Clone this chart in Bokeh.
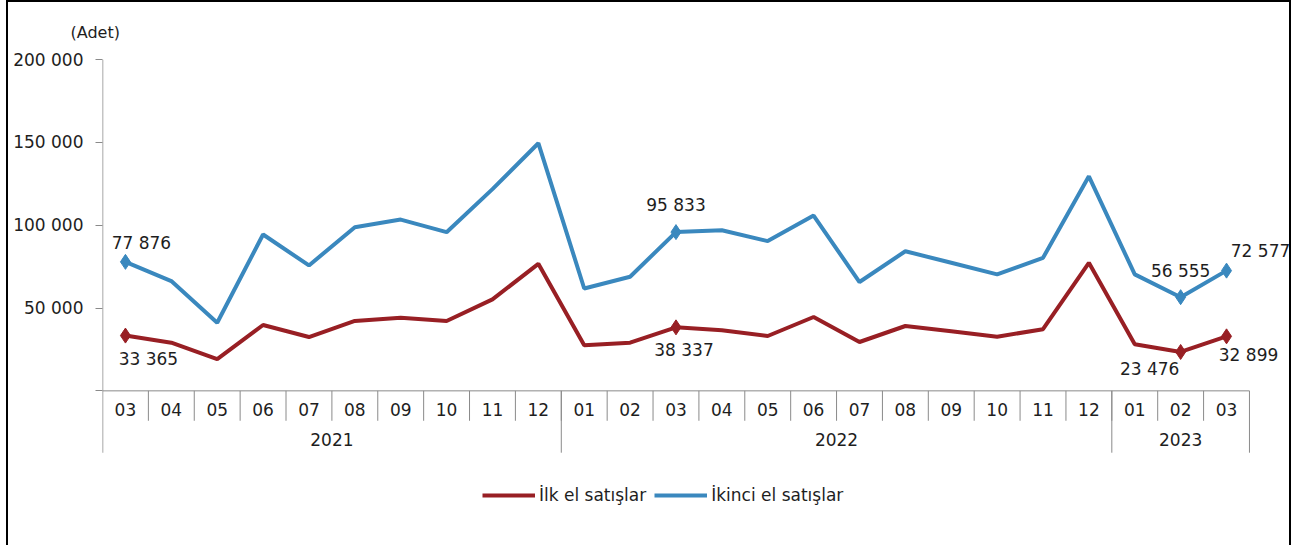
from bokeh.plotting import figure
from bokeh.models import Range1d, FixedTicker, ColumnDataSource, Legend, LegendItem, Title
from bokeh.core.properties import value
from bokeh.embed import file_html
from bokeh.resources import INLINE

# ---------------- data ----------------
months = ["03", "04", "05", "06", "07", "08", "09", "10", "11", "12",
          "01", "02", "03", "04", "05", "06", "07", "08", "09", "10", "11", "12",
          "01", "02", "03"]
years = ["2021", "2022", "2023"]
year_counts = [10, 12, 3]

ilk_el = [33365, 29100, 19100, 39750, 32500, 42200, 44100, 42200, 55200, 76700,
          27500, 29100, 38337, 36550, 33100, 44600, 29500, 39150, 36000, 32700, 37200, 77300,
          28100, 23476, 32899]
ikinci_el = [77876, 66300, 41100, 94400, 75700, 98800, 103400, 95800, 121800, 149500,
             61800, 68900, 95833, 97000, 90400, 105800, 65700, 84300, 77300, 70300, 80300, 129500,
             70300, 56555, 72577]

y_ticks = [0, 50000, 100000, 150000, 200000]
y_tick_labels = ["", "50 000", "100 000", "150 000", "200 000"]
series_names = ["İlk el satışlar", "İkinci el satışlar"]
unit_label = "(Adet)"
marked = [0, 12, 23, 24]

# ---------------- style ----------------
RED = "#981f24"
BLUE = "#3a88be"
AXIS = "#8a8a8a"
TXT = "#1e1e1e"
FONT = "DejaVu Sans"
FS = "17px"

n = len(months)
xc = [i + 0.5 for i in range(n)]
Y_TOP = 200050
Y_BOT = -94578       # frame reaches the bottom of the canvas
Y_CAT_SEP = -18070
Y_YEAR_SEP = -37350

p = figure(width=1285, height=545,
           x_range=Range1d(0, 25.96), y_range=Range1d(Y_BOT, Y_TOP),
           x_axis_location=None,
           output_backend="svg", toolbar_location=None,
           min_border_left=94, min_border_right=0, min_border_top=56, min_border_bottom=0,
           styles={"margin-left": "6px", "border-left": "2px solid black",
                   "border-top": "2px solid black", "border-right": "2px solid black"})
p.grid.visible = False
p.outline_line_color = None
p.background_fill_color = "white"
p.border_fill_color = "white"

ya = p.yaxis[0]
ya.ticker = FixedTicker(ticks=y_ticks)
ya.major_label_overrides = {t: l for t, l in zip(y_ticks, y_tick_labels)}
ya.minor_tick_line_color = None
ya.axis_line_color = None
ya.major_tick_line_color = AXIS
ya.major_tick_out = 7
ya.major_tick_in = 0
ya.major_label_standoff = 12
ya.major_label_text_font = FONT
ya.major_label_text_font_size = FS
ya.major_label_text_color = TXT

# vertical axis line (from top tick down to the end of the year separators)
p.segment(x0=[0], y0=[y_ticks[-1]], x1=[0], y1=[Y_YEAR_SEP], line_color=AXIS, line_width=1.5)
# category axis drawn in data space
p.segment(x0=[0], y0=[0], x1=[n], y1=[0], line_color=AXIS, line_width=1)
p.segment(x0=list(range(1, n)), y0=[0] * (n - 1), x1=list(range(1, n)), y1=[Y_CAT_SEP] * (n - 1),
          line_color=AXIS, line_width=1)
bounds = []
acc = 0
for c in year_counts:
    acc += c
    bounds.append(acc)
p.segment(x0=bounds, y0=[0] * len(bounds), x1=bounds, y1=[Y_YEAR_SEP] * len(bounds),
          line_color=AXIS, line_width=1)
p.text(x=xc, y=[-11450] * n, text=months, text_align="center", text_baseline="middle",
       text_font=value(FONT), text_font_size=FS, text_color=TXT)
starts = [b - c for b, c in zip(bounds, year_counts)]
p.text(x=[s + c / 2 for s, c in zip(starts, year_counts)], y=[-29500] * len(years), text=years,
       text_align="center", text_baseline="middle",
       text_font=value(FONT), text_font_size=FS, text_color=TXT)

# series
r1 = p.line(xc, ilk_el, line_color=RED, line_width=4)
r2 = p.line(xc, ikinci_el, line_color=BLUE, line_width=4)
p.scatter([xc[i] for i in marked], [ilk_el[i] for i in marked], marker="diamond", size=15,
          fill_color=RED, line_color=RED)
p.scatter([xc[i] for i in marked], [ikinci_el[i] for i in marked], marker="diamond", size=15,
          fill_color=BLUE, line_color=BLUE)

def fmt(v):
    return f"{v:,}".replace(",", " ")

# label offsets (screen px, +y = down) for marked points
off_ilk = {0: (23, 23), 12: (8, 23), 23: (-31, 17), 24: (22, 19)}
off_ik = {0: (16, -19), 12: (0, -27), 23: (0, -26), 24: (34, -20)}
lab_src = ColumnDataSource(dict(
    x=[xc[i] for i in marked] + [xc[i] for i in marked],
    y=[ilk_el[i] for i in marked] + [ikinci_el[i] for i in marked],
    t=[fmt(ilk_el[i]) for i in marked] + [fmt(ikinci_el[i]) for i in marked],
    dx=[off_ilk[i][0] for i in marked] + [off_ik[i][0] for i in marked],
    dy=[off_ilk[i][1] for i in marked] + [off_ik[i][1] for i in marked],
))
p.text(x="x", y="y", text="t", x_offset="dx", y_offset="dy", source=lab_src,
       text_align="center", text_baseline="middle",
       text_font=value(FONT), text_font_size=FS, text_color=TXT)

p.add_layout(Title(text=unit_label, align="left", offset=-32, standoff=36,
                   text_font=FONT, text_font_size="16px", text_color=TXT,
                   text_font_style="normal"), "above")

legend = Legend(items=[LegendItem(label=series_names[0], renderers=[r1]),
                       LegendItem(label=series_names[1], renderers=[r2])],
                orientation="horizontal", location=(380, 42),
                glyph_width=53, glyph_height=20, label_standoff=4, spacing=8,
                padding=0, margin=0, border_line_color=None, background_fill_alpha=0,
                label_text_font=FONT, label_text_font_size=FS, label_text_color=TXT)
p.add_layout(legend, "center")

open("out.html", "w").write(file_html(p, INLINE))
